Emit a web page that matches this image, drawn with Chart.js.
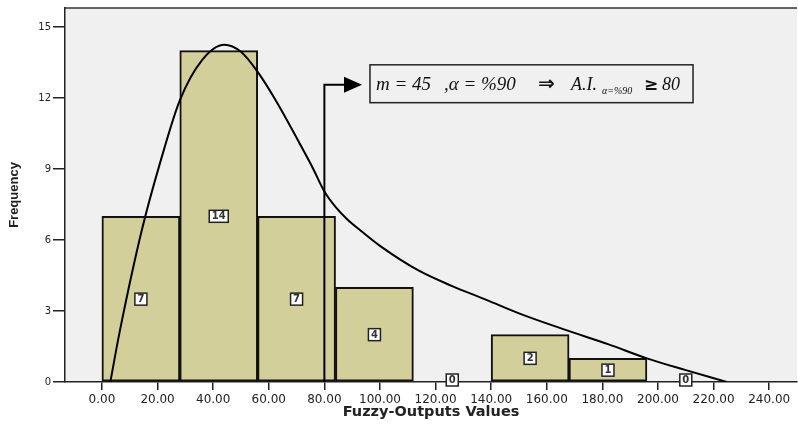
<!DOCTYPE html>
<html>
<head>
<meta charset="utf-8">
<script src="https://cdn.jsdelivr.net/npm/chart.js@4/dist/chart.umd.min.js"></script>
<style>
  html, body { margin: 0; padding: 0; background: #fff; }
  #wrap { width: 798px; height: 425px; }
</style>
</head>
<body>
<div id="wrap"><canvas id="hist"></canvas></div>
<script>
// histogram bins (centre of each 28-wide bin) and counts
const binWidth = 28;
const binCenters = [14, 42, 70, 98, 126, 154, 182, 210];
const frequencies = [7, 14, 7, 4, 0, 2, 1, 0];

// fitted curve
const curveX = [3, 6.5, 14.3, 21, 28, 36, 44, 50, 56, 63, 71, 76, 80, 84, 88, 93, 100, 114, 126, 138.5, 150, 167, 182, 196, 210, 224.7];
const curveY = [0, 2.2, 6.4, 9.3, 11.9, 13.6, 14.25, 13.95, 13.1, 11.8, 10.1, 9.0, 8.05, 7.4, 6.9, 6.4, 5.75, 4.7, 4.05, 3.46, 2.9, 2.19, 1.6, 1.0, 0.5, 0];

const xTicks = [0, 20, 40, 60, 80, 100, 120, 140, 160, 180, 200, 220, 240];
const yTicks = [0, 3, 6, 9, 12, 15];

// annotation: threshold and text box (data units)
const thresholdX = 80;
const arrowY = 12.56;
const boxX = [96.4, 212.6];
const boxY = [13.4, 11.8];

const plotBg = {
  id: 'plotBg',
  beforeDraw(chart) {
    const { ctx, chartArea: a } = chart;
    ctx.save();
    ctx.fillStyle = '#fff';
    ctx.fillRect(0, 0, chart.width, chart.height);
    ctx.fillStyle = '#f0f0f0';
    ctx.fillRect(a.left, a.top, a.right - a.left, a.bottom - a.top);
    ctx.strokeStyle = '#333';
    ctx.lineWidth = 1.5;
    ctx.beginPath();
    ctx.moveTo(a.left, a.top);
    ctx.lineTo(a.right, a.top);
    ctx.stroke();
    ctx.restore();
  }
};

const annotations = {
  id: 'annotations',
  afterDatasetsDraw(chart) {
    const { ctx } = chart;
    const xs = chart.scales.x, ys = chart.scales.y;

    // count boxes in the middle of each bar
    const bars = chart.getDatasetMeta(0).data;
    ctx.save();
    ctx.font = 'bold 10px "DejaVu Sans"';
    ctx.textAlign = 'center';
    ctx.textBaseline = 'middle';
    bars.forEach((bar, i) => {
      const label = String(frequencies[i]);
      const lift = frequencies[i] === 0 ? 2 : 0;
      const cy = ys.getPixelForValue(frequencies[i] / 2) - lift;
      const w = label.length > 1 ? 19 : 12;
      const h = 12;
      ctx.fillStyle = '#fff';
      ctx.fillRect(bar.x - w / 2, cy - h / 2, w, h);
      ctx.strokeStyle = '#222';
      ctx.lineWidth = 1.5;
      ctx.strokeRect(bar.x - w / 2, cy - h / 2, w, h);
      ctx.fillStyle = '#333';
      ctx.fillText(label, bar.x, cy + 0.5);
    });
    ctx.restore();

    // connector from threshold to the text box
    const px = xs.getPixelForValue(thresholdX);
    const py = ys.getPixelForValue(arrowY);
    const bx0 = xs.getPixelForValue(boxX[0]), bx1 = xs.getPixelForValue(boxX[1]);
    const by0 = ys.getPixelForValue(boxY[0]), by1 = ys.getPixelForValue(boxY[1]);
    ctx.save();
    ctx.strokeStyle = '#000';
    ctx.lineWidth = 2;
    ctx.beginPath();
    ctx.moveTo(px, ys.getPixelForValue(0));
    ctx.lineTo(px, py);
    ctx.lineTo(bx0 - 24, py);
    ctx.stroke();
    ctx.fillStyle = '#000';
    ctx.beginPath();
    ctx.moveTo(bx0 - 26, py - 8);
    ctx.lineTo(bx0 - 8, py);
    ctx.lineTo(bx0 - 26, py + 8);
    ctx.closePath();
    ctx.fill();

    ctx.fillStyle = '#f0f0f0';
    ctx.fillRect(bx0, by0, bx1 - bx0, by1 - by0);
    ctx.lineWidth = 1.5;
    ctx.strokeStyle = '#222';
    ctx.strokeRect(bx0, by0, bx1 - bx0, by1 - by0);

    const base = (by0 + by1) / 2 + 6;
    ctx.fillStyle = '#111';
    ctx.textBaseline = 'alphabetic';
    ctx.textAlign = 'left';
    ctx.font = 'italic 19px "Liberation Serif", "Times New Roman"';
    ctx.fillText('m = 45', bx0 + 6, base);
    ctx.fillText(',α = %90', bx0 + 74, base);
    ctx.font = 'italic 18px "Liberation Serif", "Times New Roman"';
    ctx.fillText('A.I.', bx0 + 201, base);
    ctx.fillText('80', bx0 + 292, base);
    ctx.font = 'italic 10px "Liberation Serif", "Times New Roman"';
    ctx.fillText('α=%90', bx0 + 232, base + 4);
    ctx.font = 'bold 20px "DejaVu Sans"';
    ctx.fillText('⇒', bx0 + 168, base);
    ctx.font = 'bold 17px "DejaVu Sans"';
    ctx.fillText('≥', bx0 + 274, base);
    ctx.restore();
  }
};

const chart = new Chart(document.getElementById('hist'), {
  type: 'bar',
  data: {
    datasets: [{
      type: 'bar',
      data: binCenters.map((x, i) => ({ x, y: frequencies[i] })),
      backgroundColor: '#d3cf9a',
      borderColor: '#111',
      borderWidth: 2,
      borderSkipped: false,
      barPercentage: 1,
      categoryPercentage: 1,
      order: 2
    }, {
      type: 'line',
      data: curveX.map((x, i) => ({ x, y: curveY[i] })),
      borderColor: '#000',
      borderWidth: 2,
      pointRadius: 0,
      fill: false,
      cubicInterpolationMode: 'monotone',
      order: 1
    }]
  },
  options: {
    responsive: true,
    maintainAspectRatio: false,
    animation: false,
    layout: { padding: { top: 7, right: 0, left: 0, bottom: 0 } },
    plugins: {
      legend: { display: false },
      tooltip: { enabled: false }
    },
    scales: {
      x: {
        type: 'linear',
        min: -13.3,
        max: 250,
        offset: false,
        afterBuildTicks: s => { s.ticks = xTicks.map(v => ({ value: v })); },
        afterFit: s => { s.height = 43; },
        ticks: {
          autoSkip: false,
          maxRotation: 0,
          padding: 3,
          color: '#222',
          font: { family: '"DejaVu Sans"', size: 12 },
          callback: v => v.toFixed(2)
        },
        grid: { offset: false, drawOnChartArea: false, drawTicks: true, tickLength: 8, color: '#222', lineWidth: 1.5 },
        border: { display: true, color: '#222', width: 1.5 },
        title: {
          display: true,
          text: 'Fuzzy-Outputs Values',
          color: '#222',
          padding: { top: 0, bottom: 4 },
          font: { family: '"DejaVu Sans"', size: 14.5, weight: 'bold' }
        }
      },
      y: {
        min: 0,
        max: 15.8,
        afterBuildTicks: s => { s.ticks = yTicks.map(v => ({ value: v })); },
        afterFit: s => { s.width = 65; },
        ticks: {
          padding: 2,
          color: '#222',
          font: { family: '"DejaVu Sans"', size: 10 }
        },
        grid: { drawOnChartArea: false, drawTicks: true, tickLength: 12, color: '#222', lineWidth: 1.5 },
        border: { display: true, color: '#222', width: 1.5 },
        title: {
          display: true,
          text: 'Frequency',
          color: '#222',
          padding: { top: 7, bottom: 0 },
          font: { family: '"Liberation Sans", Arial', size: 13, weight: 'bold' }
        }
      }
    }
  },
  plugins: [plotBg, annotations]
});

// bars span the whole bin: size them from the x scale once it is laid out
const xs = chart.scales.x;
chart.data.datasets[0].barThickness = xs.getPixelForValue(binWidth) - xs.getPixelForValue(0);
chart.update();
</script>
</body>
</html>
